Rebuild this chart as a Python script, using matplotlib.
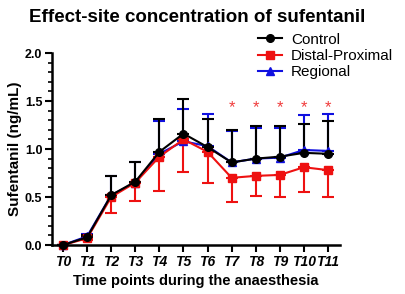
import matplotlib.pyplot as plt
import numpy as np

plt.rcParams['font.family'] = ['Liberation Sans', 'DejaVu Sans']

labels = ['T0', 'T1', 'T2', 'T3', 'T4', 'T5', 'T6', 'T7', 'T8', 'T9', 'T10', 'T11']

control = [0.0, 0.08, 0.52, 0.66, 0.97, 1.16, 1.02, 0.86, 0.90, 0.92, 0.96, 0.95]
control_hi = [0.0, 0.10, 0.72, 0.86, 1.31, 1.52, 1.31, 1.20, 1.24, 1.24, 1.26, 1.29]

distal = [0.0, 0.07, 0.50, 0.65, 0.92, 1.10, 0.97, 0.70, 0.72, 0.73, 0.81, 0.78]
distal_lo = [0.0, 0.05, 0.33, 0.46, 0.56, 0.76, 0.65, 0.45, 0.51, 0.50, 0.55, 0.50]

regional = [0.0, 0.09, 0.52, 0.65, 0.95, 1.08, 1.03, 0.86, 0.90, 0.91, 0.99, 0.98]
regional_hi = [0.0, 0.11, 0.72, 0.86, 1.29, 1.42, 1.36, 1.19, 1.22, 1.22, 1.35, 1.36]

star_idx = [7, 8, 9, 10, 11]
star_y = 1.43

x = np.arange(len(labels))

fig = plt.figure(figsize=(4.06, 2.94), dpi=100)
ax = fig.add_axes([52/406, 49/294, 288/406, 192/294])

def err_up(v, hi):
    return [np.zeros(len(v)), np.array(hi) - np.array(v)]

def err_dn(v, lo):
    return [np.array(v) - np.array(lo), np.zeros(len(v))]

kw = dict(linewidth=1.5, elinewidth=1.5, capsize=4.5, capthick=1.5, markersize=5.5, clip_on=False)
r = ax.errorbar(x, regional, yerr=err_up(regional, regional_hi), color='#1010e0', marker='^', **kw)
d = ax.errorbar(x, distal, yerr=err_dn(distal, distal_lo), color='#ee1111', marker='s', **kw)
c = ax.errorbar(x, control, yerr=err_up(control, control_hi), color='black', marker='o', **kw)

for i in star_idx:
    ax.text(x[i], star_y, '*', color='#f03c3c', ha='center', va='center', fontsize=12)

ax.set_xlim(-0.46, 11.5)
ax.set_ylim(0, 2.0)
ax.set_yticks([0, 0.5, 1.0, 1.5, 2.0])
ax.set_yticklabels(['0.0', '0.5', '1.0', '1.5', '2.0'], fontweight='bold', fontsize=9)
ax.set_yticks(np.arange(0, 2.01, 0.1), minor=True)
ax.set_xticks(x)
ax.set_xticklabels(labels, fontweight='bold', fontstyle='italic', fontsize=10)
ax.tick_params(axis='both', which='major', width=1.5, length=5, pad=2)
ax.tick_params(axis='y', which='minor', width=1.2, length=3)
for s in ['top', 'right']:
    ax.spines[s].set_visible(False)
for s in ['left', 'bottom']:
    ax.spines[s].set_linewidth(1.8)

ax.set_xlabel('Time points during the anaesthesia', fontweight='bold', fontsize=10.5, labelpad=4)
ax.set_ylabel('Sufentanil (ng/mL)', fontweight='bold', fontsize=11, labelpad=2)
fig.text(0.485, 0.94, 'Effect-site concentration of sufentanil', ha='center', va='center',
         fontweight='bold', fontsize=13.5)

leg = fig.legend([c[0], d[0], r[0]], ['Control', 'Distal-Proximal', 'Regional'],
                 loc='upper left', bbox_to_anchor=(250/406, 1 - 25/294),
                 frameon=False, fontsize=11, handlelength=1.6, handletextpad=0.6,
                 labelspacing=0.15, borderpad=0)

fig.savefig('out.png', dpi=100)
